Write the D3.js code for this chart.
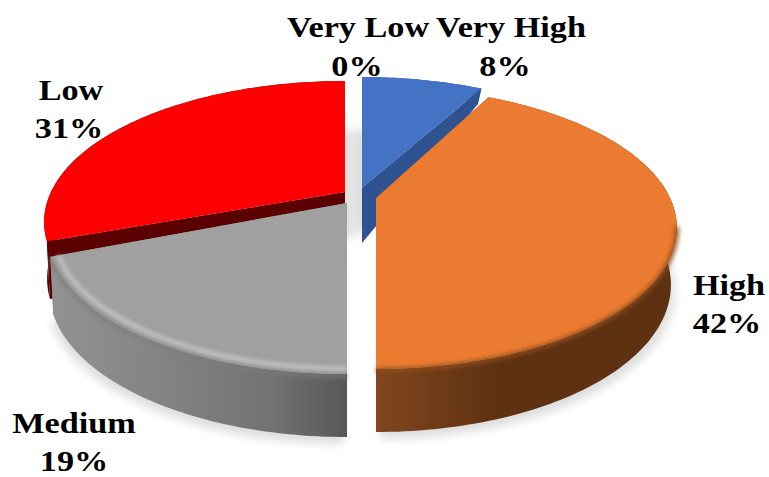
<!DOCTYPE html>
<html>
<head>
<meta charset="utf-8">
<style>
html,body{margin:0;padding:0;background:#fff;}
svg{display:block;}
text{font-family:"Liberation Serif",serif;font-weight:700;fill:#000;text-anchor:middle;}
</style>
<script src="https://cdn.jsdelivr.net/npm/d3@7"></script>
</head>
<body>
<svg id="chart" width="769" height="477"></svg>
<script>
const categories = ["Very Low", "Very High", "High", "Medium", "Low"];
const values = [0, 8, 42, 19, 31];
const percentLabels = ["0%", "8%", "42%", "19%", "31%"];

// styling / layout, keyed by category
const topColors = {"Very Low":"#7f7f7f","Very High":"#4472c4","High":"#ea7b30","Medium":"#a0a0a0","Low":"#ff0000"};
const wallColors = {"Very Low":"#555","Very High":"#2f5290","High":"#5e3112","Medium":"#707070","Low":"#5a0000"};
const origins = {"Very Low":[358,190],"Very High":[362,188],"High":[376,198],"Medium":[347,203],"Low":[345,192]};
const faceNudge = {"High":-0.03,"Low":0.03,"Very High":0,"Medium":0,"Very Low":0};
const sideWidth = {"High":0.98,"Medium":0.99,"Low":0.99,"Very High":0.97,"Very Low":0.97};
const labelAnchors = {"Very Low":[358,37,357,76],"Very High":[511,37,505,76],"High":[729,295,727,333],"Medium":[74,433,74,471],"Low":[71,100,69,138]};

const svg = d3.select("#chart");
const defs = svg.append("defs");
const addBlur = (id, s) => defs.append("filter").attr("id", id)
  .attr("x","-20%").attr("y","-20%").attr("width","140%").attr("height","140%")
  .append("feGaussianBlur").attr("stdDeviation", s);
addBlur("shadowBlur", 4);
addBlur("rimBlur", 2.2);

const addGrad = (id, x1, x2, stops) => {
  const g = defs.append("linearGradient").attr("id", id).attr("gradientUnits","userSpaceOnUse")
    .attr("x1",x1).attr("x2",x2).attr("y1",0).attr("y2",0);
  stops.forEach(([o,c]) => g.append("stop").attr("offset",o).attr("stop-color",c));
};
addGrad("graySide", 48, 347, [[0,"#939393"],[0.45,"#808080"],[0.75,"#727272"],[1,"#585858"]]);
addGrad("orangeSide", 377, 677, [[0,"#80461d"],[0.4,"#5e3112"],[1,"#5e3112"]]);

const pie = d3.pie().sort(null).value(d => d.value);
const arcs = pie(categories.map((c,i) => ({category:c, value:values[i]})));

// perspective of the tilted disc
const P = 0.213;
const rx = d3.scaleLinear().domain([0,1]).range([0,294]);
const ry = d3.scaleLinear().domain([0,1]).range([0,134.6]);
const top3d = (o, a, r=1) => {
  const u = Math.sin(a)*r, v = Math.cos(a)*r, s = 1/(1+P*v);
  return [o[0]+rx(u)*s, o[1]-ry(v)*s];
};
const depth = v => v >= 0 ? 55-45*v : 55-8*v;
const bot3d = (o, a, w=0.97) => {
  const u = Math.sin(a), v = Math.cos(a), s = 1/(1+P*v);
  return [o[0]+rx(u)*s*w, o[1]-ry(v)*s+depth(v)];
};
const sampled = (a0, a1) => {
  const n = Math.max(2, Math.ceil((a1-a0)/0.02));
  return d3.range(n+1).map(i => a0+(a1-a0)*i/n);
};
const line = d3.line();
const closed = pts => line(pts)+"Z";

// shadows
const sh = svg.append("g").attr("filter","url(#shadowBlur)").attr("fill","#dedede");
const byName = Object.fromEntries(arcs.map(d => [d.data.category, d]));
const backOrigin = [354, 238];
["Low","Very High"].forEach(n => {
  const d = byName[n];
  const oo = n==="Low" ? [backOrigin[0]-2,backOrigin[1]] : backOrigin;
  sh.append("path").attr("d", closed([oo, ...sampled(d.startAngle,d.endAngle).map(a => top3d(oo,a,0.97))]));
});
["Medium","High"].forEach(n => {
  const d = byName[n];
  const o = origins[n];
  const off = [n==="Medium"?-3:4, 7];
  sh.append("path").attr("d", closed([[o[0]+off[0],o[1]+60], ...sampled(d.startAngle,d.endAngle).map(a => {
    const p = bot3d(o,a,sideWidth[n]); return [p[0]+off[0],p[1]+off[1]];
  })]));
});

// slices, back to front
const drawOrder = ["Very High","Low","Medium","High"];
const pieG = svg.append("g");
drawOrder.forEach(name => {
  const d = byName[name];
  const o = origins[name];
  const w = sideWidth[name];
  const g = pieG.append("g").attr("class","slice");
  const faceStart = d.startAngle + faceNudge[name];
  const angles = sampled(faceStart, d.endAngle);
  const wallFill = name==="Medium" ? "url(#graySide)" : name==="High" ? "url(#orangeSide)" : wallColors[name];
  const apexB = [o[0], o[1]+depth(0)];
  // walls
  [faceStart, d.endAngle].forEach(a => {
    g.append("path").attr("fill", wallColors[name])
      .attr("d", closed([o, top3d(o,a), bot3d(o,a,w), apexB]));
  });
  // outer side
  g.append("path").attr("fill", wallFill)
    .attr("d", closed([...angles.map(a => top3d(o,a)), ...angles.slice().reverse().map(a => bot3d(o,a,w))]));
  // top face
  g.append("path").attr("fill", topColors[name])
    .attr("d", closed([o, ...angles.map(a => top3d(o,a))]));
  // bevel
  if (name==="Medium") {
    g.append("path").attr("fill","none").attr("stroke","#cccccc").attr("stroke-width",3.5)
      .attr("filter","url(#rimBlur)")
      .attr("d", line(angles.map(a => top3d(o,a,0.975))));
    g.append("path").attr("fill","none").attr("stroke","#7c7c7c").attr("stroke-width",3)
      .attr("filter","url(#rimBlur)")
      .attr("d", line(angles.map(a => { const p = top3d(o,a,1); return [p[0],p[1]+2]; })));
  }
  if (name==="High") {
    g.append("path").attr("fill","none").attr("stroke","#8f4d1e").attr("stroke-width",4)
      .attr("filter","url(#rimBlur)")
      .attr("d", line(angles.filter(a => a>1.75).map(a => { const p = top3d(o,a,1); return [p[0],p[1]+1]; })));
  }
});

// labels
const labelG = svg.append("g");
categories.forEach((c,i) => {
  const [x1,y1,x2,y2] = labelAnchors[c];
  [[c,x1,y1],[percentLabels[i],x2,y2]].forEach(([t,x,y]) => {
    labelG.append("text").attr("transform",`translate(${x},${y}) scale(1.18,1)`)
      .style("font-size","29px").text(t);
  });
});
</script>
</body>
</html>
